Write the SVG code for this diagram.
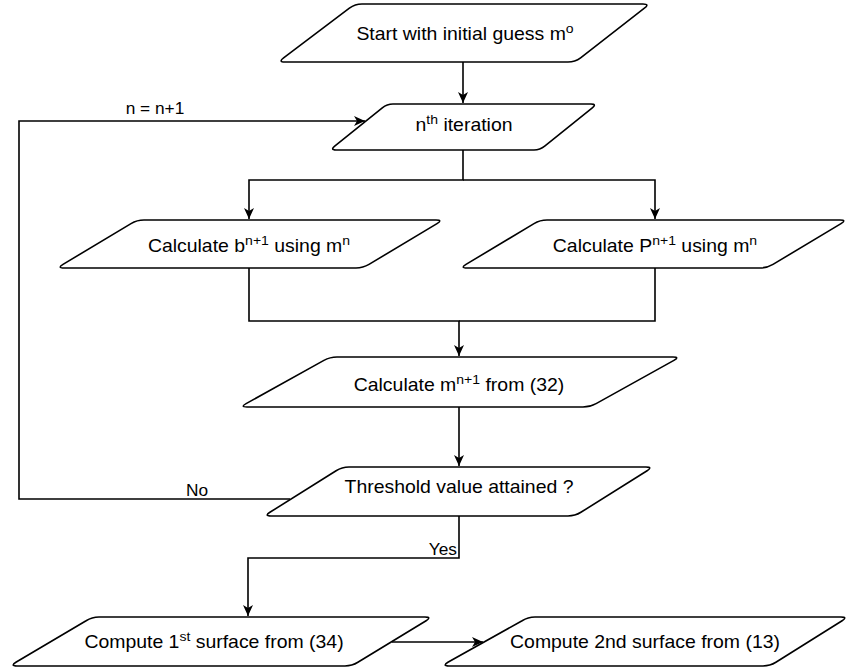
<svg xmlns="http://www.w3.org/2000/svg" width="849" height="671" viewBox="0 0 849 671">
<style>
.shape{fill:#fff;stroke:#000;stroke-width:1.6}
.conn{fill:none;stroke:#000;stroke-width:1.6}
.lbl{font-family:"Liberation Sans",Arial,sans-serif;font-size:18px;fill:#000;text-anchor:middle}
.sm{font-family:"Liberation Sans",Arial,sans-serif;font-size:16px;fill:#000}
.sup{font-size:13px}
</style>
<defs>
<marker id="arr" markerWidth="12" markerHeight="10" refX="11" refY="5" orient="auto" markerUnits="userSpaceOnUse">
<path d="M0,0 L11,5 L0,10 L3,5 Z" fill="#000"/>
</marker>
</defs>
<rect width="849" height="671" fill="#fff"/>
<g id="connectors">
<path class="conn" d="M463,62 V103" marker-end="url(#arr)"/>
<path class="conn" d="M463,150 V180 H249 V219" marker-end="url(#arr)"/>
<path class="conn" d="M463,180 H655 V219" marker-end="url(#arr)"/>
<path class="conn" d="M249,268 V321 H459 V356" marker-end="url(#arr)"/>
<path class="conn" d="M655,268 V321 H459"/>
<path class="conn" d="M459,407 V466" marker-end="url(#arr)"/>
<path class="conn" d="M290,499 H19 V121 H365" marker-end="url(#arr)"/>
<path class="conn" d="M459,516 V558 H248 V616" marker-end="url(#arr)"/>
<path class="conn" d="M392,642 H483" marker-end="url(#arr)"/>
<text class="sm" text-anchor="middle" transform="translate(155,114) scale(1.08,1)">n = n+1</text>
<text class="sm" text-anchor="middle" transform="translate(197,496) scale(1.08,1)">No</text>
<text class="sm" text-anchor="end" transform="translate(457,555) scale(1.08,1)">Yes</text>
</g>
<g id="start">
<path class="shape" d="M 362,4 L 643,4 Q 650,4 644.4,8.2 L 580.6,57.8 Q 575,62 568,62 L 285,62 Q 278,62 283.6,57.8 L 349.4,8.2 Q 355,4 362,4 Z"/>
<text class="lbl" transform="translate(465,40) scale(1.08,1)">Start with initial guess m<tspan class="sup" dy="-7">o</tspan></text>
</g>
<g id="iteration">
<path class="shape" d="M 393,104 L 591,104 Q 597,104 592.3,107.8 L 544.7,146.2 Q 540,150 534,150 L 336,150 Q 330,150 334.7,146.2 L 382.3,107.8 Q 387,104 393,104 Z"/>
<text class="lbl" transform="translate(464,131) scale(1.08,1)">n<tspan class="sup" dy="-7">th</tspan><tspan dy="7"> iteration</tspan></text>
</g>
<g id="calc-b">
<path class="shape" d="M 144,220 L 436,220 Q 443,220 437,223.6 L 369,264.4 Q 363,268 356,268 L 64,268 Q 57,268 63,264.4 L 131,223.6 Q 137,220 144,220 Z"/>
<text class="lbl" transform="translate(249,252) scale(1.08,1)">Calculate b<tspan class="sup" dy="-7">n+1</tspan><tspan dy="7"> using m</tspan><tspan class="sup" dy="-7">n</tspan></text>
</g>
<g id="calc-p">
<path class="shape" d="M 547,220 L 840,220 Q 847,220 841,223.6 L 773,264.4 Q 767,268 760,268 L 467,268 Q 460,268 466,264.4 L 534,223.6 Q 540,220 547,220 Z"/>
<text class="lbl" transform="translate(655,252) scale(1.08,1)">Calculate P<tspan class="sup" dy="-7">n+1</tspan><tspan dy="7"> using m</tspan><tspan class="sup" dy="-7">n</tspan></text>
</g>
<g id="calc-m">
<path class="shape" d="M 337,357 L 673,357 Q 680,357 673.9,360.4 L 596.1,403.6 Q 590,407 583,407 L 247,407 Q 240,407 246.1,403.6 L 323.9,360.4 Q 330,357 337,357 Z"/>
<text class="lbl" transform="translate(459,391) scale(1.08,1)">Calculate m<tspan class="sup" dy="-7">n+1</tspan><tspan dy="7"> from (32)</tspan></text>
</g>
<g id="threshold">
<path class="shape" d="M 349,467 L 646,467 Q 653,467 647.1,470.7 L 580.9,512.3 Q 575,516 568,516 L 271,516 Q 264,516 269.9,512.3 L 336.1,470.7 Q 342,467 349,467 Z"/>
<text class="lbl" transform="translate(459,493) scale(1.08,1)">Threshold value attained ?</text>
</g>
<g id="compute-1">
<path class="shape" d="M 99,617 L 425,617 Q 432,617 426.1,620.7 L 357.9,662.3 Q 352,666 345,666 L 17,666 Q 10,666 15.9,662.3 L 86.1,620.7 Q 92,617 99,617 Z"/>
<text class="lbl" transform="translate(214,648) scale(1.08,1)">Compute 1<tspan class="sup" dy="-7">st</tspan><tspan dy="7"> surface from (34)</tspan></text>
</g>
<g id="compute-2">
<path class="shape" d="M 535,617 L 841,617 Q 848,617 842.1,620.7 L 775.9,662.3 Q 770,666 763,666 L 449,666 Q 442,666 447.9,662.3 L 522.1,620.7 Q 528,617 535,617 Z"/>
<text class="lbl" transform="translate(645,648) scale(1.08,1)">Compute 2nd surface from (13)</text>
</g>
</svg>
